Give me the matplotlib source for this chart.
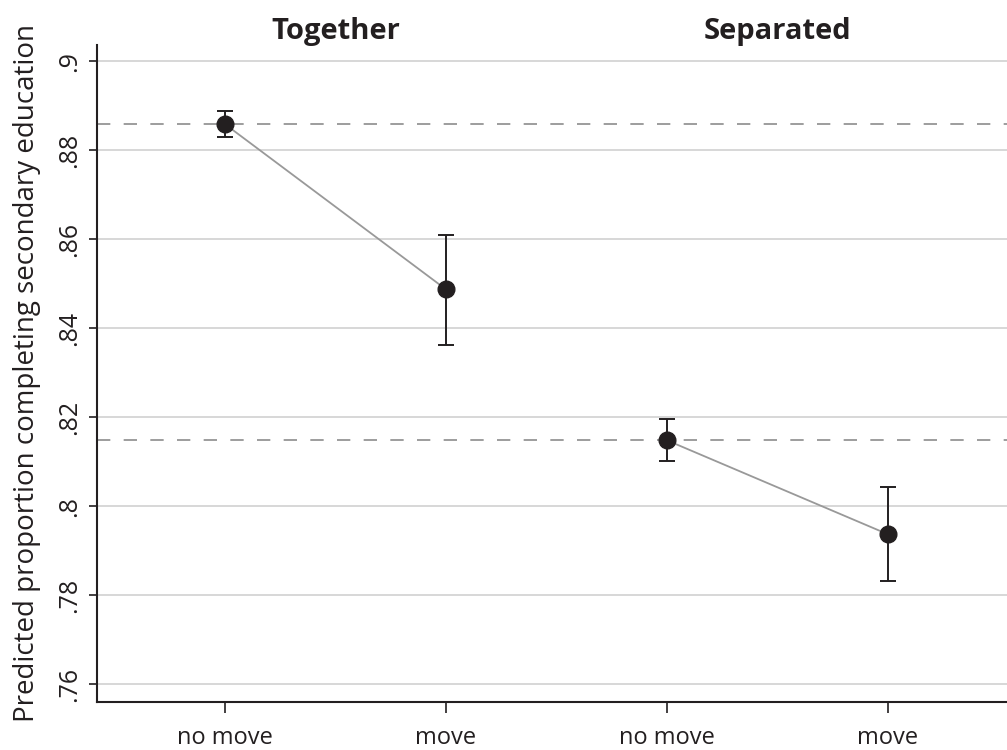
import numpy as np
import matplotlib.pyplot as plt

plt.rcParams['font.family'] = ['Open Sans', 'DejaVu Sans']

groups = ['Together', 'Separated']
moves = ['no move', 'move', 'no move', 'move']
est = [0.8858, 0.8487, 0.8148, 0.7937]
ci_lo = [0.8829, 0.8363, 0.8101, 0.7831]
ci_hi = [0.8888, 0.8609, 0.8196, 0.8043]
baseline = [0.8858, 0.8148]
yticks = [0.76, 0.78, 0.80, 0.82, 0.84, 0.86, 0.88, 0.90]
ylabels = ['.76', '.78', '.8', '.82', '.84', '.86', '.88', '.9']

fig = plt.figure(figsize=(10.07, 7.5), dpi=100)
ax = fig.add_axes([0.0963, 0.064, 0.9037, 0.876])

x = np.arange(1, 5)
est = np.array(est)
lo = est - np.array(ci_lo)
hi = np.array(ci_hi) - est

for b in baseline:
    ax.axhline(b, color='#8c8c8c', lw=1.2, dashes=(8, 8), zorder=2)

for i in range(2):
    sl = slice(2 * i, 2 * i + 2)
    ax.plot(x[sl], est[sl], color='#999999', lw=1.3, zorder=3)

ax.errorbar(x, est, yerr=[lo, hi], fmt='o', color='#231f20', ms=12,
            ecolor='#231f20', elinewidth=1.4, capsize=6, capthick=1.4, zorder=4)

ax.set_xlim(0.42, 4.54)
ax.set_ylim(0.7560, 0.9036)
ax.set_yticks(yticks)
ax.set_yticklabels(ylabels, rotation=90, va='center', fontsize=18)
ax.set_xticks(x)
ax.set_xticklabels(moves, fontsize=17)
ax.tick_params(axis='x', length=8, width=1.2, pad=9, colors='#231f20')
ax.tick_params(axis='y', length=6, width=1.2, pad=5, colors='#231f20')
ax.grid(axis='y', color='#d4d4d4', lw=1.3, zorder=0)
ax.set_axisbelow(True)

for s in ['top', 'right']:
    ax.spines[s].set_visible(False)
for s in ['left', 'bottom']:
    ax.spines[s].set_linewidth(1.5)
    ax.spines[s].set_color('#231f20')

ax.set_ylabel('Predicted proportion completing secondary education', fontsize=20,
              color='#231f20', labelpad=11)

for i, g in enumerate(groups):
    ax.text((x[2 * i] + x[2 * i + 1]) / 2, 1.02, g, transform=ax.get_xaxis_transform(),
            ha='center', va='center', fontsize=21, fontweight='bold', color='#231f20')

plt.savefig('out.png', dpi=100)
